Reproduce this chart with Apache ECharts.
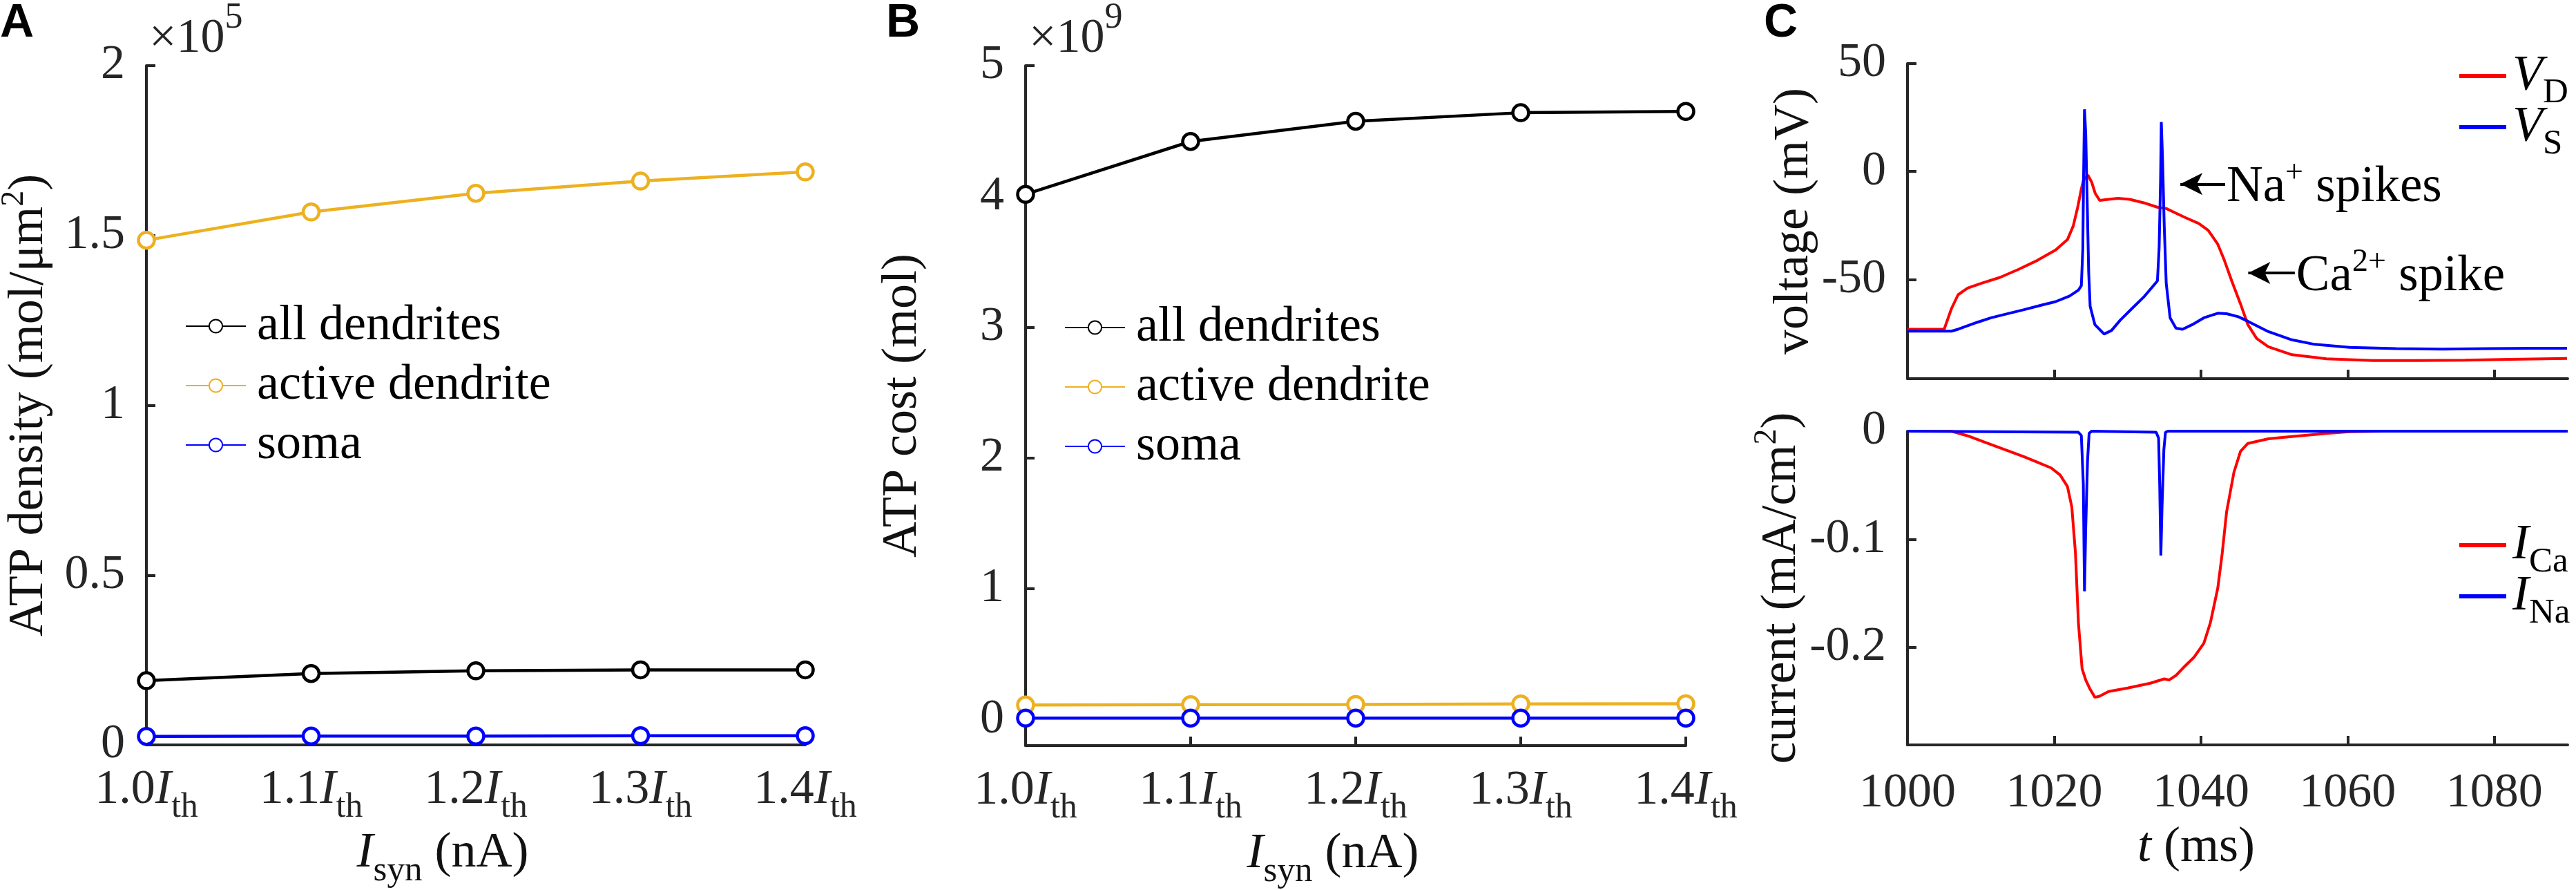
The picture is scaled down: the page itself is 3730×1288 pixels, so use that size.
<!DOCTYPE html>
<html>
<head>
<meta charset="utf-8">
<title>ATP consumption and Ca2+ spike</title>
<script src="https://cdn.jsdelivr.net/npm/echarts@6.0.0/dist/echarts.min.js"></script>
<style>
  html, body { margin: 0; padding: 0; background: #fff; }
  #main { width: 3730px; height: 1288px; }
</style>
</head>
<body>
<div id="main"></div>
<script>
// ---------- data ----------
// stimulus levels, as multiples of I_th
var iSynLevels = [1.0, 1.1, 1.2, 1.3, 1.4];

// A: ATP density (mol/um^2)
var densityAll    = [0.189e5, 0.210e5, 0.218e5, 0.221e5, 0.221e5];
var densityActive = [1.486e5, 1.569e5, 1.624e5, 1.660e5, 1.687e5];
var densitySoma   = [0.025e5, 0.026e5, 0.026e5, 0.027e5, 0.027e5];
var densityTicks  = [0, 0.5e5, 1e5, 1.5e5, 2e5];

// B: ATP cost (mol)
var costAll    = [4.016e9, 4.42e9, 4.575e9, 4.64e9, 4.65e9];
var costActive = [0.110e9, 0.113e9, 0.115e9, 0.118e9, 0.120e9];
var costSoma   = [0.010e9, 0.010e9, 0.010e9, 0.010e9, 0.010e9];
var costTicks  = [0, 1e9, 2e9, 3e9, 4e9, 5e9];

// C top: membrane voltage (mV) vs t (ms)
var vdTime  = [1000, 1005.0, 1006.0, 1006.9, 1008.2, 1010.1, 1012.6, 1015.1, 1017.7, 1020.2, 1021.8,
               1022.6, 1023.2, 1023.7, 1024.0, 1024.6, 1025.1, 1025.6, 1026.2, 1027.4, 1028.7, 1030.3,
               1032.2, 1034.1, 1035.3, 1036.6, 1037.9, 1039.7, 1041.0, 1042.3, 1043.2, 1044.2, 1045.4,
               1046.4, 1047.6, 1049.2, 1052.4, 1057.1, 1063.4, 1069.7, 1076.0, 1082.3, 1089.9];
var vdValue = [-73.1, -73.1, -63.5, -57.1, -54.0, -51.8, -49.1, -45.4, -41.2, -36.4, -31.6,
               -25.2, -16.6, -8.1, -3.8, -1.7, -4.9, -10.2, -13.4, -12.9, -12.4, -12.9,
               -14.5, -16.6, -17.2, -19.3, -21.4, -24.1, -27.3, -33.7, -41.2, -50.7, -61.4,
               -71.0, -77.4, -81.2, -84.9, -86.8, -87.6, -87.6, -87.4, -87.0, -86.6];
var vsTime  = [1000, 1006.0, 1006.9, 1008.2, 1009.5, 1011.4, 1013.3, 1015.8, 1018.3, 1020.2, 1022.1,
               1023.3, 1023.7, 1023.9, 1024.0, 1024.13, 1024.3, 1024.5, 1024.7, 1024.9, 1025.55, 1026.8,
               1027.8, 1029.0, 1030.6, 1032.2, 1033.4, 1034.07, 1034.3, 1034.5, 1034.6, 1034.76, 1035.0,
               1035.27, 1035.8, 1036.6, 1037.5, 1038.8, 1040.4, 1042.3, 1043.5, 1045.1, 1046.4, 1049.2,
               1052.4, 1055.5, 1060.3, 1066.6, 1072.9, 1079.2, 1085.5, 1089.9];
var vsValue = [-74.0, -74.0, -73.1, -71.5, -69.9, -67.8, -66.2, -64.1, -61.9, -60.3, -57.7,
               -55.0, -52.9, -35.8, -3.9, 28.8, 17.5, -14.5, -46.5, -62.5, -71.0, -75.3,
               -73.7, -68.9, -63.5, -58.2, -53.4, -50.7, -35.8, -3.8, 22.9, 6.8, -25.2,
               -51.8, -67.8, -72.6, -73.1, -71.0, -67.8, -65.7, -65.9, -67.3, -69.4, -74.2,
               -78.0, -80.1, -81.5, -82.1, -82.3, -82.1, -81.9, -81.9];
var voltageTicks = [-50, 0, 50];

// C bottom: current (mA/cm^2) vs t (ms)
var iCaTime  = [1000, 1006.0, 1008.2, 1010.7, 1013.25, 1015.8, 1017.7, 1019.6, 1020.8, 1021.8, 1022.4,
                1022.9, 1023.3, 1023.8, 1024.3, 1024.9, 1025.55, 1026.2, 1027.4, 1030.0, 1033.1, 1035.0,
                1035.65, 1036.6, 1037.85, 1039.1, 1040.4, 1041.3, 1042.3, 1042.9, 1043.5, 1044.5, 1045.4,
                1046.4, 1049.2, 1052.4, 1057.1, 1060.2, 1065.0, 1090.0];
var iCaValue = [0, 0, -0.0043, -0.0106, -0.0170, -0.0234, -0.0287, -0.0340, -0.0405, -0.0510, -0.0700,
                -0.1130, -0.1770, -0.2195, -0.2300, -0.2386, -0.2460, -0.2450, -0.2407, -0.2375, -0.2330, -0.2290,
                -0.2300, -0.2258, -0.2170, -0.2087, -0.1960, -0.1768, -0.1450, -0.1130, -0.0746, -0.0380, -0.0186,
                -0.0113, -0.0070, -0.0049, -0.0021, -0.0005, 0, 0];
var iNaTime  = [1000, 1023.3, 1023.7, 1023.97, 1024.13, 1024.29, 1024.54, 1024.76, 1025.1,
                1033.9, 1034.23, 1034.38, 1034.54, 1034.7, 1034.95, 1035.17, 1035.5, 1090.0];
var iNaValue = [0, -0.001, -0.004, -0.049, -0.148, -0.092, -0.028, -0.002, 0,
                -0.001, -0.0064, -0.049, -0.115, -0.070, -0.017, -0.001, 0, 0];
var currentTicks = [-0.2, -0.1, 0];

var timeTicks = [1000, 1020, 1040, 1060, 1080];

// arrow annotations on the voltage trace: [t, V] of arrow head centre and tail
var naArrow = { head: [1037.2, -5.8], tail: [1043.3, -5.8] };
var caArrow = { head: [1046.45, -47.0], tail: [1052.8, -47.0] };

// ---------- styling ----------
var SERIF = 'Liberation Serif';
var SANS = 'Liberation Sans';
var INK = '#262626';
var ORANGE = '#EDB120';

// every piece of text goes through a rich token so the font family sticks
var rich = {
  n: { fontFamily: SERIF, fontSize: 72, fontWeight: 'normal' },
  i: { fontFamily: SERIF, fontSize: 72, fontStyle: 'italic', fontWeight: 'normal' },
  s: { fontFamily: SERIF, fontSize: 51, fontWeight: 'normal', padding: [50, 0, 0, 0] },
  p: { fontFamily: SERIF, fontSize: 46, fontWeight: 'normal', padding: [0, 0, 42, 0] }
};
var tickRich = {
  n: { fontFamily: SERIF, fontSize: 70, fontWeight: 'normal' },
  i: { fontFamily: SERIF, fontSize: 70, fontStyle: 'italic', fontWeight: 'normal' },
  s: { fontFamily: SERIF, fontSize: 50, fontWeight: 'normal', padding: [50, 0, 0, 0] }
};

function pairs(xs, ys) {
  return xs.map(function (x, k) { return [x, ys[k]]; });
}

function axis(extra) {
  var base = {
    type: 'value',
    axisLine: { show: true, onZero: false, lineStyle: { color: INK, width: 4 } },
    axisTick: { show: true, inside: true, length: 13, lineStyle: { color: INK, width: 4 } },
    axisLabel: { color: INK, fontFamily: SERIF, fontWeight: 'normal', fontSize: 70, rich: tickRich },
    splitLine: { show: false },
    nameTextStyle: { color: '#111', fontFamily: SERIF, fontWeight: 'normal', fontSize: 72, rich: rich }
  };
  return echarts.util.merge(base, extra, true);
}

function isynLabel(v) {
  return '{n|' + v.toFixed(1) + '}{i|I}{s|th}';
}
function plainLabel(scale) {
  return function (v) { return '{n|' + String(+(v / scale).toFixed(3)) + '}'; };
}

function markerSeries(name, color, idx, ys) {
  return {
    type: 'line', name: name, xAxisIndex: idx, yAxisIndex: idx,
    data: pairs(iSynLevels, ys),
    symbol: 'circle', symbolSize: 23, showAllSymbol: true,
    color: color,
    lineStyle: { color: color, width: 4.5 },
    itemStyle: { color: '#ffffff', borderColor: color, borderWidth: 4.5 },
    clip: false, z: 3
  };
}

function traceSeries(name, color, idx, ts, vs) {
  return {
    type: 'line', name: name, xAxisIndex: idx, yAxisIndex: idx,
    data: pairs(ts, vs),
    symbol: 'none', showSymbol: false,
    color: color,
    lineStyle: { color: color, width: 4 },
    clip: false
  };
}

var legendNames = {
  VD: '{i|V}{s|D}', VS: '{i|V}{s|S}',
  ICa: '{i|I}{s|Ca}', INa: '{i|I}{s|Na}'
};

function traceLegend(name, top) {
  return {
    data: [name], left: 3561, top: top, padding: 0,
    icon: 'rect', itemWidth: 68, itemHeight: 6,
    selectedMode: false,
    formatter: function (n) { return legendNames[n]; },
    textStyle: { color: '#000', fontFamily: SERIF, fontWeight: 'normal', fontSize: 72, padding: [0, 0, 0, 4], rich: rich }
  };
}

function markerLegend(left, top) {
  return {
    data: ['all dendrites', 'active dendrite', 'soma'],
    orient: 'vertical', left: left, top: top, padding: 0,
    itemWidth: 87, itemHeight: 24, itemGap: 14,
    selectedMode: false,
    formatter: function (n) { return '{n|' + n + '}'; },
    textStyle: {
      color: '#000', fontFamily: SERIF, fontWeight: 'normal', fontSize: 72,
      rich: { n: { fontFamily: SERIF, fontSize: 72, fontWeight: 'normal', lineHeight: 72, padding: [0, 0, 0, 11] } }
    }
  };
}

var annotationText = {
  na: '{n|Na}{p|+}{n| spikes}',
  ca: '{n|Ca}{p|2+}{n| spike}'
};

var letterRich = { l: { fontFamily: SANS, fontWeight: 'bold', fontSize: 68, color: '#000' } };
var exponentRich = {
  m: { fontFamily: SERIF, fontWeight: 'normal', fontSize: 70, color: INK },
  q: { fontFamily: SERIF, fontWeight: 'normal', fontSize: 52, color: INK, padding: [0, 0, 62, 0] }
};

var chart = echarts.init(document.getElementById('main'), null, { renderer: 'canvas' });

var option = {
  backgroundColor: '#fff',
  animation: false,
  textStyle: { fontFamily: SERIF },
  title: [
    { text: '{l|A}', left: 0, top: 0, padding: 0, textStyle: { rich: letterRich } },
    { text: '{l|B}', left: 1283, top: 0, padding: 0, textStyle: { rich: letterRich } },
    { text: '{l|C}', left: 2554, top: 0, padding: 0, textStyle: { rich: letterRich } },
    { text: '{m|×10}{q|5}', left: 216, top: 0, padding: 0, textStyle: { fontWeight: 'normal', rich: exponentRich } },
    { text: '{m|×10}{q|9}', left: 1490, top: 0, padding: 0, textStyle: { fontWeight: 'normal', rich: exponentRich } }
  ],
  grid: [
    { left: 212, top: 95, width: 954, height: 983, containLabel: false, outerBoundsMode: 'none' },
    { left: 1485, top: 95, width: 956, height: 984, containLabel: false, outerBoundsMode: 'none' },
    { left: 2762, top: 92, width: 956, height: 456, containLabel: false, outerBoundsMode: 'none' },
    { left: 2762, top: 624, width: 956, height: 454, containLabel: false, outerBoundsMode: 'none' }
  ],
  legend: [
    markerLegend(268, 436),
    markerLegend(1541, 438),
    traceLegend('VD', 74),
    traceLegend('VS', 148),
    traceLegend('ICa', 753),
    traceLegend('INa', 827)
  ],
  xAxis: [
    axis({ gridIndex: 0, min: 1.0, max: 1.4,
      axisTick: { customValues: iSynLevels }, axisLabel: { customValues: iSynLevels, margin: 16, formatter: isynLabel },
      name: '{i|I}{s|syn}{n| (nA)}', nameLocation: 'middle', nameGap: 107, nameTextStyle: { padding: [0, 96, 0, 0] } }),
    axis({ gridIndex: 1, min: 1.0, max: 1.4,
      axisTick: { customValues: iSynLevels }, axisLabel: { customValues: iSynLevels, margin: 16, formatter: isynLabel },
      name: '{i|I}{s|syn}{n| (nA)}', nameLocation: 'middle', nameGap: 107, nameTextStyle: { padding: [0, 66, 0, 0] } }),
    axis({ gridIndex: 2, min: 1000, max: 1090,
      axisTick: { customValues: timeTicks }, axisLabel: { show: false } }),
    axis({ gridIndex: 3, min: 1000, max: 1090,
      axisTick: { customValues: timeTicks },
      axisLabel: { customValues: timeTicks, margin: 36, formatter: plainLabel(1) },
      name: '{i|t}{n| (ms)}', nameLocation: 'middle', nameGap: 113, nameTextStyle: { padding: [0, 120, 0, 0] } })
  ],
  yAxis: [
    axis({ gridIndex: 0, min: 0, max: 2e5,
      axisTick: { customValues: densityTicks },
      axisLabel: { customValues: densityTicks, margin: 31, formatter: plainLabel(1e5) },
      name: '{n|ATP density (mol/μm}{p|2}{n|)}', nameLocation: 'middle', nameRotate: 90, nameGap: 126 }),
    axis({ gridIndex: 1, min: -0.2e9, max: 5e9,
      axisTick: { customValues: costTicks },
      axisLabel: { customValues: costTicks, margin: 31, formatter: plainLabel(1e9) },
      name: '{n|ATP cost (mol)}', nameLocation: 'middle', nameRotate: 90, nameGap: 142 }),
    axis({ gridIndex: 2, min: -96, max: 50,
      axisTick: { customValues: voltageTicks },
      axisLabel: { customValues: voltageTicks, margin: 31, formatter: plainLabel(1) },
      name: '{n|voltage (mV)}', nameLocation: 'middle', nameRotate: 90, nameGap: 127 }),
    axis({ gridIndex: 3, min: -0.29, max: 0,
      axisTick: { customValues: currentTicks },
      axisLabel: { customValues: currentTicks, margin: 31, formatter: plainLabel(1) },
      name: '{n|current (mA/cm}{p|2}{n|)}', nameLocation: 'middle', nameRotate: 90, nameGap: 120 })
  ],
  series: [
    markerSeries('all dendrites', '#000000', 0, densityAll),
    markerSeries('active dendrite', ORANGE, 0, densityActive),
    markerSeries('soma', '#0000FF', 0, densitySoma),
    markerSeries('all dendrites', '#000000', 1, costAll),
    markerSeries('active dendrite', ORANGE, 1, costActive),
    markerSeries('soma', '#0000FF', 1, costSoma),
    (function () {
      var s = traceSeries('VD', '#FF0000', 2, vdTime, vdValue);
      s.markLine = {
        silent: true,
        symbol: ['arrow', 'none'],
        symbolSize: [24, 32],
        lineStyle: { color: '#000', width: 4, type: 'solid' },
        label: {
          show: true, position: 'end', distance: 2,
          color: '#000', fontFamily: SERIF, fontWeight: 'normal', fontSize: 73, padding: [12, 0, 0, 0],
          formatter: function (p) { return annotationText[p.name]; },
          rich: {
            n: { fontFamily: SERIF, fontWeight: 'normal', fontSize: 73 },
            p: { fontFamily: SERIF, fontWeight: 'normal', fontSize: 46, padding: [0, 0, 42, 0] }
          }
        },
        emphasis: { disabled: true },
        data: [
          [{ name: 'na', coord: naArrow.head }, { coord: naArrow.tail }],
          [{ name: 'ca', coord: caArrow.head }, { coord: caArrow.tail }]
        ]
      };
      return s;
    })(),
    traceSeries('VS', '#0000FF', 2, vsTime, vsValue),
    traceSeries('ICa', '#FF0000', 3, iCaTime, iCaValue),
    traceSeries('INa', '#0000FF', 3, iNaTime, iNaValue)
  ]
};

chart.setOption(option);
</script>
</body>
</html>
